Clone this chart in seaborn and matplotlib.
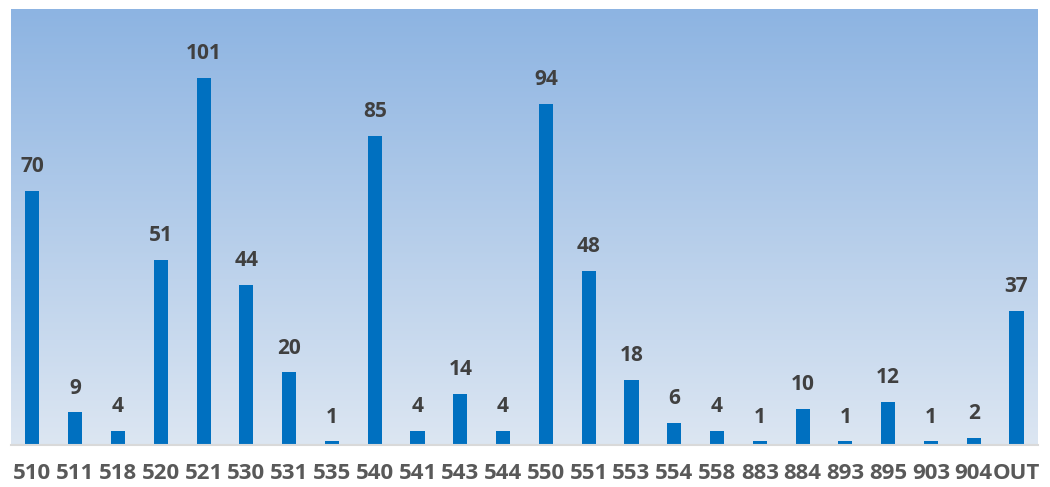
import numpy as np
import pandas as pd
import matplotlib
matplotlib.use("Agg")
import matplotlib.pyplot as plt
import seaborn as sns
from matplotlib.colors import LinearSegmentedColormap

# chart data
codes = ["510", "511", "518", "520", "521", "530", "531", "535", "540", "541", "543", "544",
         "550", "551", "553", "554", "558", "883", "884", "893", "895", "903", "904", "OUT"]
counts = [70, 9, 4, 51, 101, 44, 20, 1, 85, 4, 14, 4,
          94, 48, 18, 6, 4, 1, 10, 1, 12, 1, 2, 37]

df = pd.DataFrame({"code": codes, "count": counts})

sns.set_style("white")
plt.rcParams['font.family'] = ['Open Sans', 'DejaVu Sans']

fig = plt.figure(figsize=(10.5, 4.87), dpi=100)
ax = fig.add_axes([0.0105, 0.086, 0.978, 0.895])

# gradient background for the plot area
grad_cmap = LinearSegmentedColormap.from_list("bg", ["#DCE6F2", "#8DB4E2"])
grad = np.linspace(0, 1, 256).reshape(-1, 1)
ax.imshow(grad, aspect="auto", cmap=grad_cmap, origin="lower",
          extent=[0, 1, 0, 1], transform=ax.transAxes, zorder=0)

sns.barplot(data=df, x="code", y="count", color="#0070C0", width=0.33,
            saturation=1, edgecolor="none", linewidth=0, ax=ax, zorder=2)

ax.set_ylim(0, 120)
ax.set_xlim(-0.5, len(codes) - 0.5)
ax.bar_label(ax.containers[0], padding=10, fontsize=15, fontweight="bold", color="#404040")

ax.set_xlabel("")
ax.set_ylabel("")
ax.set_yticks([])
ax.tick_params(axis="x", length=0, pad=13, labelsize=16, labelcolor="#595959")
for lbl in ax.get_xticklabels():
    lbl.set_fontweight("bold")

for side in ["top", "left", "right"]:
    ax.spines[side].set_visible(False)
ax.spines["bottom"].set_color("#D9D9D9")
ax.spines["bottom"].set_linewidth(1.5)

fig.savefig("out.png", dpi=100)
